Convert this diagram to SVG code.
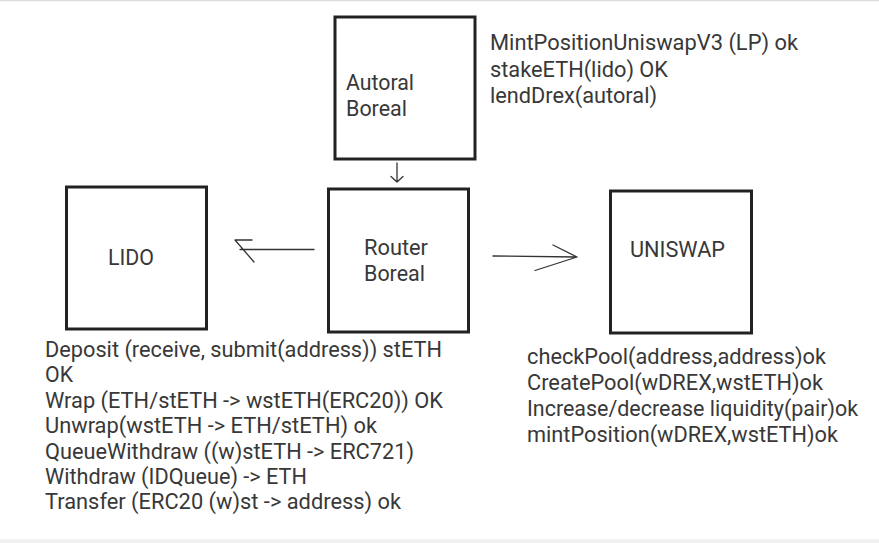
<svg xmlns="http://www.w3.org/2000/svg" width="879" height="543" viewBox="0 0 879 543">
<style>
.box{fill:#fff;stroke:#222;stroke-width:3}
.t{font-family:Roboto,"Liberation Sans",sans-serif;font-size:21.3px;fill:#383838}
.c{fill:none;stroke:#333;stroke-width:1.3;stroke-linecap:round;stroke-linejoin:round}
</style>
<rect x="0" y="0" width="879" height="543" fill="#fff"/>
<rect x="0" y="0" width="879" height="1.2" fill="#dcdcdc"/>
<rect x="0" y="539" width="879" height="4" fill="#f1f1f1"/>
<g id="autoral">
<rect class="box" x="335" y="17" width="140" height="142"/>
<text class="t" x="346" y="90" textLength="68" lengthAdjust="spacingAndGlyphs">Autoral</text>
<text class="t" x="346" y="116" textLength="61" lengthAdjust="spacingAndGlyphs">Boreal</text>
</g>
<g id="router">
<rect class="box" x="328.5" y="189" width="140" height="143"/>
<text class="t" x="364" y="255" textLength="64" lengthAdjust="spacingAndGlyphs">Router</text>
<text class="t" x="364" y="281" textLength="61" lengthAdjust="spacingAndGlyphs">Boreal</text>
</g>
<g id="lido">
<rect class="box" x="66.5" y="187" width="140" height="142"/>
<text class="t" x="108" y="265" textLength="46" lengthAdjust="spacingAndGlyphs">LIDO</text>
</g>
<g id="uniswap">
<rect class="box" x="610.5" y="191" width="141" height="142"/>
<text class="t" x="630" y="257" textLength="95" lengthAdjust="spacingAndGlyphs">UNISWAP</text>
</g>
<g id="connectors">
<path class="c" d="M397 163 L397 182 M391 176.5 L397 182 L403 176.5"/>
<path class="c" d="M314 249.5 L240 249.5 M254 262 L235 240 L252 240"/>
<path class="c" d="M493 256 L577 257 M553 245 L577 257 L535 270.5"/>
</g>
<g id="notes">
<text class="t" x="490" y="50" textLength="308" lengthAdjust="spacingAndGlyphs">MintPositionUniswapV3 (LP) ok</text>
<text class="t" x="490" y="76.5" textLength="178" lengthAdjust="spacingAndGlyphs">stakeETH(lido) OK</text>
<text class="t" x="490" y="103" textLength="167" lengthAdjust="spacingAndGlyphs">lendDrex(autoral)</text>
<text class="t" x="45" y="357" textLength="397" lengthAdjust="spacingAndGlyphs">Deposit (receive, submit(address)) stETH</text>
<text class="t" x="45" y="382.4" textLength="28" lengthAdjust="spacingAndGlyphs">OK</text>
<text class="t" x="45" y="407.8" textLength="398" lengthAdjust="spacingAndGlyphs">Wrap (ETH/stETH -&gt; wstETH(ERC20)) OK</text>
<text class="t" x="45" y="433.2" textLength="332" lengthAdjust="spacingAndGlyphs">Unwrap(wstETH -&gt; ETH/stETH) ok</text>
<text class="t" x="45" y="458.6" textLength="369" lengthAdjust="spacingAndGlyphs">QueueWithdraw ((w)stETH -&gt; ERC721)</text>
<text class="t" x="45" y="484" textLength="262" lengthAdjust="spacingAndGlyphs">Withdraw (IDQueue) -&gt; ETH</text>
<text class="t" x="45" y="509.4" textLength="356" lengthAdjust="spacingAndGlyphs">Transfer (ERC20 (w)st -&gt; address) ok</text>
<text class="t" x="527" y="364.3" textLength="299" lengthAdjust="spacingAndGlyphs">checkPool(address,address)ok</text>
<text class="t" x="527" y="390" textLength="296" lengthAdjust="spacingAndGlyphs">CreatePool(wDREX,wstETH)ok</text>
<text class="t" x="527" y="416" textLength="331" lengthAdjust="spacingAndGlyphs">Increase/decrease liquidity(pair)ok</text>
<text class="t" x="527" y="441.7" textLength="311" lengthAdjust="spacingAndGlyphs">mintPosition(wDREX,wstETH)ok</text>
</g>
</svg>
